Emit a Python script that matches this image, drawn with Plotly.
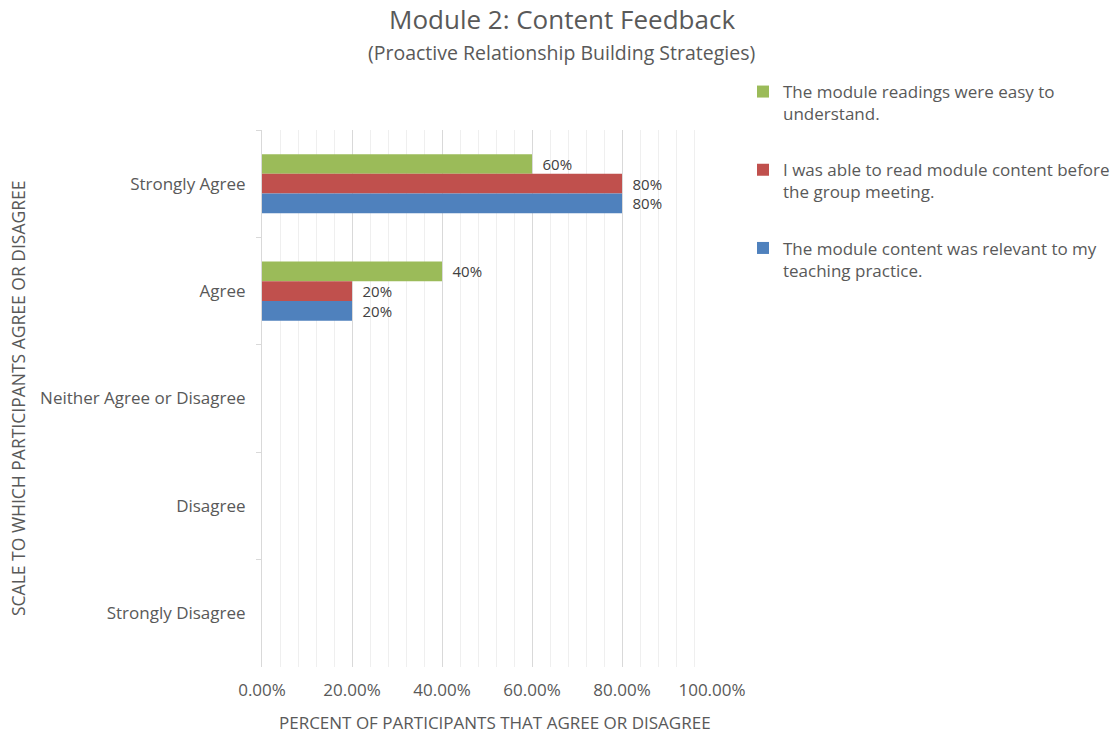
import plotly.graph_objects as go

# Survey responses (share of participants) per agreement level
categories = ["Strongly Agree", "Agree", "Neither Agree or Disagree", "Disagree", "Strongly Disagree"]
series_names = [
    "The module readings were easy to<br>understand.",
    "I was able to read module content before<br>the group meeting.",
    "The module content was relevant to my<br>teaching practice.",
]
readings_easy = [0.60, 0.40, None, None, None]
read_before_meeting = [0.80, 0.20, None, None, None]
content_relevant = [0.80, 0.20, None, None, None]
x_tick_values = [0, 0.2, 0.4, 0.6, 0.8, 1.0]
x_tick_labels = ["0.00%", "20.00%", "40.00%", "60.00%", "80.00%", "100.00%"]

colors = ["#9BBB59", "#C0504D", "#4F81BD"]
FONT = "Open Sans"
TEXT = "#595959"

fig = go.Figure()
for i, (name, vals) in enumerate(zip(series_names, [readings_easy, read_before_meeting, content_relevant])):
    labels = ["\u2002" + f"{v:.0%}" if v is not None else "" for v in vals]
    fig.add_trace(go.Bar(
        y=categories, x=vals, name=name, orientation="h",
        marker=dict(color=colors[i], line=dict(width=0)),
        text=labels, textposition="outside", constraintext="none",
        textfont=dict(family=FONT, size=15, color="#404040"),
        cliponaxis=False, legendgroup=f"g{i}",
        hoverinfo="skip",
    ))

L, R, T, B = 262, 400, 130, 69
W, H = 1112, 736
pw, ph = W - L - R, H - T - B

def px(xp):
    return (xp - L) / pw

def py(yp):
    return (H - B - yp) / ph

fig.update_layout(
    width=W, height=H,
    margin=dict(l=L, r=R, t=T, b=B, autoexpand=False),
    paper_bgcolor="white", plot_bgcolor="white",
    barmode="group", bargap=0.45, bargroupgap=0,
    font=dict(family=FONT, color=TEXT),
    showlegend=True,
    legend=dict(
        x=px(743), y=py(74), xanchor="left", yanchor="top",
        xref="paper", yref="paper",
        traceorder="grouped", tracegroupgap=31, valign="top",
        font=dict(family=FONT, size=17, color=TEXT),
        itemwidth=30,
    ),
    xaxis=dict(
        range=[0, 1.0], tickvals=x_tick_values, ticktext=x_tick_labels,
        showgrid=True, gridcolor="#d9d9d9", gridwidth=1,
        minor=dict(dtick=0.04, showgrid=True, gridcolor="#efefef", gridwidth=1),
        zeroline=False, showline=False, ticks="",
        tickfont=dict(family=FONT, size=17, color=TEXT),
        ticklabelstandoff=11,
    ),
    yaxis=dict(
        type="category", categoryorder="array", categoryarray=categories,
        range=[4.5, -0.5],
        showgrid=False, zeroline=False,
        showline=True, linecolor="#d9d9d9", linewidth=1,
        ticks="outside", tickson="boundaries", ticklen=5, tickcolor="#d9d9d9",
        tickfont=dict(family=FONT, size=17, color=TEXT),
        ticklabelstandoff=12,
    ),
    annotations=[
        dict(text="Module 2: Content Feedback", x=px(562), y=py(19), xref="paper", yref="paper",
             showarrow=False, xanchor="center", yanchor="middle",
             font=dict(family=FONT, size=26, color=TEXT)),
        dict(text="(Proactive Relationship Building Strategies)", x=px(561), y=py(52), xref="paper", yref="paper",
             showarrow=False, xanchor="center", yanchor="middle",
             font=dict(family=FONT, size=19.5, color=TEXT)),
        dict(text="SCALE TO WHICH PARTICIPANTS AGREE OR DISAGREE", x=px(18), y=py(398), xref="paper", yref="paper",
             showarrow=False, xanchor="center", yanchor="middle", textangle=-90,
             font=dict(family=FONT, size=17.5, color=TEXT)),
        dict(text="PERCENT OF PARTICIPANTS THAT AGREE OR DISAGREE", x=px(495), y=py(723), xref="paper", yref="paper",
             showarrow=False, xanchor="center", yanchor="middle",
             font=dict(family=FONT, size=17, color=TEXT)),
    ],
)

fig.write_html("out.html")
